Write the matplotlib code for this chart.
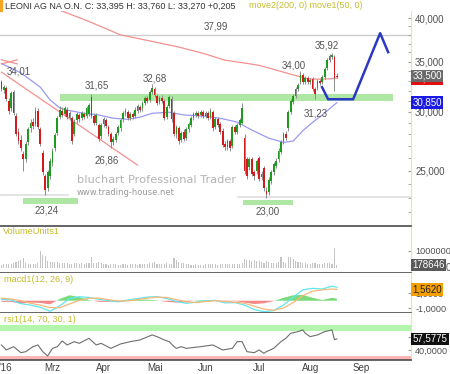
import matplotlib
matplotlib.use("Agg")
import matplotlib.pyplot as plt
import numpy as np
from matplotlib.ticker import FixedLocator, NullFormatter

plt.rcParams['font.family'] = ['Liberation Sans', 'DejaVu Sans']

# daily candles, Feb 1 2016 .. Aug 18 2016 (trading-day index on x)
opens = [32.9, 32.1, 32.3, 31.0, 30.3, 31.9, 29.6, 28.2, 27.5, 26.3,
         25.9, 27.3, 28.5, 29.1, 28.9, 30.1, 28.4, 26.4, 24.6, 23.7,
         24.6, 25.6, 26.8, 28.1, 29.5, 30.1, 29.8, 30.2, 29.4, 29.4,
         28.0, 29.2, 29.7, 29.4, 29.8, 29.6, 29.8, 31.4, 29.6, 29.0,
         28.8, 27.8, 28.9, 29.2, 28.6, 28.0, 27.3, 27.5, 28.1, 28.5,
         29.3, 29.9, 30.0, 29.4, 29.8, 29.6, 30.1, 30.4, 30.3, 30.8,
         31.3, 31.1, 31.9, 32.2, 31.5, 30.9, 31.3, 31.0, 29.5, 30.5,
         31.2, 29.9, 28.0, 28.5, 27.5, 28.2, 27.7, 28.4, 28.8, 29.4,
         29.7, 29.9, 29.7, 30.0, 29.6, 29.9, 29.5, 30.0, 28.6, 29.3,
         28.9, 28.3, 27.2, 26.9, 27.4, 27.0, 28.6, 28.2, 28.8, 29.0,
         27.7, 25.9, 25.3, 25.9, 24.9, 25.0, 26.0, 24.5, 25.2, 23.5,
         23.4, 24.2, 24.9, 25.4, 25.9, 26.5, 27.4, 28.0, 28.5, 30.0,
         30.9, 31.5, 32.2, 32.9, 33.6, 32.9, 33.3, 32.9, 33.2, 32.2,
         32.3, 33.0, 32.9, 33.4, 34.3, 35.2, 35.5, 35.5, 33.5]
highs = [33.1, 32.6, 32.5, 31.3, 32.0, 32.1, 29.9, 28.5, 27.9, 26.6,
         27.4, 28.6, 29.3, 29.4, 30.4, 30.3, 28.6, 26.7, 24.8, 25.1,
         26.0, 26.8, 28.1, 29.6, 30.5, 30.4, 30.5, 30.4, 30.1, 29.6,
         29.3, 30.0, 29.9, 30.1, 30.0, 30.5, 30.8, 31.65, 29.9, 29.9,
         29.0, 29.0, 29.5, 29.4, 28.8, 28.2, 27.8, 28.2, 28.8, 29.4,
         30.1, 30.3, 30.2, 30.0, 30.0, 30.4, 30.7, 30.6, 31.0, 31.5,
         31.5, 32.1, 32.68, 32.4, 31.7, 31.5, 31.6, 31.2, 30.6, 31.6,
         31.5, 30.1, 28.8, 28.7, 28.3, 28.4, 28.6, 29.1, 29.6, 30.0,
         30.1, 30.1, 30.2, 30.2, 30.1, 30.1, 30.3, 30.2, 29.5, 29.5,
         29.1, 28.5, 27.4, 27.6, 27.6, 28.8, 28.8, 29.0, 29.4, 30.8,
         28.0, 26.1, 26.1, 26.1, 25.1, 25.9, 26.2, 25.0, 25.4, 23.8,
         24.5, 25.1, 25.7, 26.0, 26.8, 27.5, 28.2, 28.3, 30.2, 31.2,
         31.7, 32.4, 32.8, 34.0, 33.8, 33.5, 33.5, 33.3, 33.4, 32.4,
         33.2, 33.2, 33.6, 34.4, 35.4, 35.8, 35.92, 35.7, 33.76]
lows = [32.0, 31.8, 31.0, 29.8, 30.1, 29.7, 27.8, 27.2, 26.6, 25.0,
        25.7, 27.1, 28.2, 28.4, 28.7, 28.4, 27.0, 24.7, 23.24, 23.5,
        24.4, 25.4, 26.6, 27.9, 29.3, 29.5, 29.6, 29.3, 29.2, 27.2,
        27.8, 29.0, 29.1, 29.2, 29.3, 29.4, 29.6, 29.4, 28.8, 28.8,
        27.4, 27.6, 28.6, 28.5, 27.8, 26.86, 27.1, 27.3, 27.9, 28.3,
        29.1, 29.6, 29.2, 29.2, 29.3, 29.4, 29.9, 30.0, 30.1, 30.6,
        30.8, 30.9, 31.7, 31.4, 30.6, 30.7, 30.8, 29.2, 29.3, 30.3,
        29.1, 27.8, 27.7, 27.2, 27.3, 27.4, 27.5, 28.2, 28.6, 29.2,
        29.5, 29.4, 29.5, 29.4, 29.4, 29.2, 29.3, 28.3, 28.4, 28.6,
        28.0, 26.9, 26.7, 26.7, 26.6, 26.8, 28.0, 28.0, 28.6, 28.9,
        24.8, 24.4, 25.1, 24.6, 24.3, 24.8, 24.2, 24.3, 23.5, 23.0,
        23.2, 24.0, 24.7, 25.2, 25.7, 26.3, 27.2, 27.5, 28.3, 29.8,
        30.7, 31.3, 32.0, 32.7, 32.7, 32.7, 32.7, 32.7, 32.0, 31.23,
        32.1, 32.6, 32.7, 33.2, 34.1, 35.0, 35.3, 32.0, 33.27]
closes = [32.2, 32.4, 31.2, 30.1, 31.8, 29.9, 28.0, 27.4, 26.8, 25.9,
          27.2, 28.4, 29.0, 28.7, 30.1, 28.6, 27.2, 24.9, 23.6, 24.9,
          25.8, 26.6, 27.9, 29.4, 30.2, 29.7, 30.3, 29.5, 29.9, 27.4,
          29.1, 29.8, 29.3, 29.9, 29.5, 30.3, 30.6, 29.6, 29.0, 29.7,
          27.6, 28.8, 29.3, 28.7, 28.0, 27.3, 27.6, 28.0, 28.6, 29.2,
          29.9, 30.1, 29.4, 29.8, 29.5, 30.2, 30.5, 30.2, 30.8, 31.3,
          31.0, 31.9, 32.3, 31.6, 30.8, 31.3, 31.0, 29.4, 30.4, 31.4,
          29.3, 28.0, 28.6, 27.4, 28.1, 27.6, 28.4, 28.9, 29.4, 29.8,
          29.9, 29.6, 30.0, 29.6, 29.9, 29.4, 30.1, 28.5, 29.3, 28.8,
          28.2, 27.1, 26.9, 27.4, 26.8, 28.6, 28.2, 28.8, 29.2, 30.3,
          25.0, 24.6, 25.9, 24.8, 24.6, 25.8, 24.4, 24.8, 23.7, 23.3,
          24.3, 24.9, 25.5, 25.8, 26.6, 27.3, 28.0, 27.7, 30.0, 31.0,
          31.5, 32.2, 32.6, 33.6, 32.9, 33.3, 32.9, 33.1, 32.2, 31.7,
          33.0, 32.8, 33.4, 34.2, 35.2, 35.6, 35.7, 33.3, 33.395]
volumes_k = [200, 220, 250, 230, 260, 300, 350, 400, 450, 590,
             280, 230, 250, 220, 260, 300, 1020, 750, 700, 400,
             380, 350, 380, 330, 300, 290, 280, 270, 250, 260,
             300, 280, 260, 270, 250, 290, 300, 650, 300, 290,
             330, 280, 240, 220, 200, 260, 230, 210, 190, 200,
             230, 210, 200, 220, 240, 210, 190, 250, 230, 220,
             260, 280, 300, 330, 250, 260, 220, 240, 280, 230,
             250, 600, 490, 380, 300, 280, 240, 220, 200, 190,
             210, 180, 200, 190, 220, 230, 210, 260, 220, 200,
             230, 250, 240, 220, 260, 250, 220, 230, 240, 300,
             550, 480, 470, 430, 450, 400, 420, 380, 300, 400,
             330, 300, 280, 300, 350, 650, 380, 300, 650, 640,
             500, 420, 380, 350, 300, 280, 260, 250, 270, 300,
             240, 220, 260, 300, 320, 290, 250, 1180, 178.646]

# moving averages (index, value)
ma200_idx = [0, 12, 24, 36, 49, 61, 73, 83, 92, 100, 106, 113, 120, 126, 132, 138]
ma200_val = [43.6, 42.2, 41.0, 39.6, 38.0, 37.3, 36.6, 35.9, 35.15, 34.85, 34.6, 34.1, 33.6, 33.2, 33.15, 33.25]
ma50_idx = [0, 8, 16, 20, 24, 27, 34, 40, 46, 52, 57, 62, 69, 75, 83, 90, 97, 103, 110, 116, 120, 124, 129, 132, 138]
ma50_val = [34.8, 33.8, 32.35, 31.1, 30.35, 30.15, 29.85, 29.7, 29.4, 29.3, 29.5, 29.85, 29.95, 29.7, 29.6, 29.4, 29.05, 28.35, 27.65, 27.3, 27.4, 28.3, 29.2, 29.7, 30.85]

# drawn objects
trend_idx = [0, 56]
trend_val = [33.88, 25.45]
forecast_idx = [131.9, 134.4, 144.7, 155.8, 159.1]
forecast_val = [32.35, 31.17, 31.17, 38.2, 36.03]
price_marks = [(7.2, 34.0, "34,01"), (39.3, 32.55, "31,65"), (63.2, 33.26, "32,68"),
               (43.4, 25.85, "26,86"), (18.7, 22.13, "23,24"), (109.7, 22.06, "23,00"),
               (120.4, 34.62, "34,00"), (134.0, 36.81, "35,92"), (129.4, 29.86, "31,23"),
               (88.3, 39.03, "37,99")]

# MACD (12, 26, 9)
macd_idx = [0, 4, 8, 12, 16, 20, 24, 28, 32, 36, 40, 44, 48, 52, 56, 60, 64, 68,
            72, 76, 80, 84, 88, 92, 96, 100, 104, 108, 112, 116, 120, 124, 128, 132, 136, 138]
macd_line = [0.2, 0.1, -0.4, -0.6, -0.9, -1.45, -0.7, 0.3, 0.55, 0.45, 0.2, 0.0, -0.15, 0.1,
             0.3, 0.5, 0.55, 0.3, -0.1, -0.35, -0.2, 0.0, 0.05, -0.3, -0.25, -0.6, -1.2, -1.5,
             -1.35, -0.6, 0.5, 1.5, 1.7, 1.6, 2.0, 1.85]
macd_signal = [0.35, 0.25, 0.0, -0.35, -0.6, -0.95, -0.95, -0.45, 0.05, 0.35, 0.35, 0.15, -0.05,
               -0.02, 0.15, 0.35, 0.5, 0.45, 0.15, -0.15, -0.25, -0.1, 0.0, -0.12, -0.2, -0.35,
               -0.75, -1.15, -1.3, -1.0, -0.25, 0.7, 1.3, 1.5, 1.6, 1.562]

# RSI (14)
rsi_idx = [0, 2, 5, 8, 10, 13, 15, 17, 19, 21, 23, 25, 27, 30, 32, 36, 39, 41, 45, 49, 53,
           57, 62, 64, 67, 69, 71, 72, 74, 76, 82, 87, 91, 95, 97, 99, 101, 104, 106, 108,
           109, 112, 115, 117, 119, 122, 124, 125, 127, 130, 133, 136, 137, 138]
rsi_val = [48.0, 40.0, 45.3, 35.7, 37.3, 45.3, 48.0, 37.3, 30.4, 42.6, 45.3, 54.4, 48.0, 53.3,
           50.6, 58.6, 48.0, 50.6, 42.6, 49.6, 53.3, 56.0, 64.0, 61.3, 56.0, 53.3, 45.3, 42.6,
           45.3, 42.6, 45.3, 48.0, 40.0, 42.6, 53.3, 53.3, 37.3, 35.7, 40.0, 34.7, 37.3, 42.6,
           53.3, 58.6, 66.7, 69.3, 72.0, 66.7, 61.3, 64.0, 69.3, 72.0, 56.5, 57.58]

month_idx = [21, 42, 63, 84, 106, 127, 148]
month_lbl = ["Mrz", "Apr", "Mai", "Jun", "Jul", "Aug", "Sep"]

W, H = 450, 374
fig = plt.figure(figsize=(W / 100, H / 100), dpi=100)


def rect(top, bottom):
    return [0, 1 - bottom / H, 411 / W, (bottom - top) / H]


ax = fig.add_axes(rect(11, 226))
axv = fig.add_axes(rect(227, 273), sharex=ax)
axm = fig.add_axes(rect(273, 313), sharex=ax)
axr = fig.add_axes(rect(313, 360), sharex=ax)

for a in (ax, axv, axm, axr):
    a.spines['top'].set_visible(False)
    a.spines['left'].set_visible(False)
    a.spines['right'].set_color('#efe2a6')
    a.spines['bottom'].set_color('#4a4a4a')
    a.spines['bottom'].set_linewidth(1.2)
    a.yaxis.tick_right()
    a.tick_params(axis='y', which='both', labelsize=7, labelcolor='#505050', color='#9a9a9a',
                  direction='in', length=2, pad=3)
    a.tick_params(axis='x', which='both', length=0, labelbottom=False)

ax.set_xlim(-0.6, 168.5)

# ---- main price panel
ax.set_yscale('log')
ax.set_ylim(21.1, 40.9)
x = np.arange(len(closes))
o = np.array(opens)
c = np.array(closes)
up = c >= o

ax.fill_between([24, 161], 31.0, 31.65, color='#aee6a4', lw=0, zorder=1)
ax.fill_between([9, 31.5], 22.55, 22.97, color='#aee6a4', lw=0, zorder=1)
ax.fill_between([99.5, 120], 22.5, 22.85, color='#aee6a4', lw=0, zorder=1)
ax.plot([-1, 169], [37.99, 37.99], color='#cdcdcd', lw=1, zorder=1)
ax.plot([0, 27.5], [23.24, 23.24], color='#dedede', lw=1.2, zorder=1)
ax.plot([97.3, 169], [23.1, 23.1], color='#dedede', lw=1.2, zorder=1)

ax.plot(ma200_idx, ma200_val, color='#f39090', lw=0.9, zorder=2)
ax.plot(ma50_idx, ma50_val, color='#9a9af2', lw=0.9, zorder=2)
ax.plot(trend_idx, trend_val, color='#f39090', lw=0.9, zorder=2)
ax.plot([0, 6.5], [35.2, 34.75], color='#f39090', lw=0.9, zorder=2)
ax.plot([0, 6.5], [34.75, 35.2], color='#f39090', lw=0.9, zorder=2)

ax.vlines(x, lows, highs, color='#8c8c8c', lw=0.7, zorder=3)
ax.bar(x[up], (c - o)[up], bottom=o[up], width=0.72, color='#1e9a1e', lw=0, zorder=4)
ax.bar(x[~up], (o - c)[~up], bottom=c[~up], width=0.72, color='#d41a1a', lw=0, zorder=4)

ax.plot(forecast_idx, forecast_val, color='#2b38c4', lw=1.8, zorder=5)

for xi, yi, s in price_marks:
    ax.text(xi, yi, s, fontsize=7, color='#555555', ha='center', va='center', zorder=6)

ax.yaxis.set_major_locator(FixedLocator([25, 30, 35, 40]))
ax.set_yticklabels(['25,000', '30,000', '35,000', '40,000'])
ax.yaxis.set_minor_locator(FixedLocator(np.arange(22, 41, 1.0)))
ax.yaxis.set_minor_formatter(NullFormatter())


def tag(a, val, s, bg, fg):
    a.text(1.004, val, s, transform=a.get_yaxis_transform(), fontsize=7, color=fg,
           ha='left', va='center', clip_on=False, zorder=10,
           bbox=dict(boxstyle='square,pad=0.12', fc=bg, ec='none'))


tag(ax, 33.2, "33,254", '#e01010', '#ffffff')
tag(ax, 33.5, "33,500", '#6a6a6a', '#ffffff')
tag(ax, 30.85, "30,850", '#1a1ae6', '#ffffff')

# ---- volume panel
vol = np.array(volumes_k)
axv.bar(x, vol, width=0.45, color='#c4c4c4', lw=0)
axv.set_ylim(-290, 2400)
axv.set_yticks([1000])
axv.set_yticklabels(['1000000'], fontsize=6.6)
tag(axv, volumes_k[-1], "178646", '#5a5a5a', '#ffffff')
axv.text(1.085, 0, "0", transform=axv.get_yaxis_transform(), fontsize=7, color='#505050',
         ha='left', va='center', clip_on=False)

# ---- MACD panel
mi = np.array(macd_idx, dtype=float)
ml = np.array(macd_line)
ms = np.array(macd_signal)
hist = ml - ms
axm.fill_between(mi, 0, hist, where=hist >= 0, interpolate=True, color='#5ad25a', alpha=0.8, lw=0)
axm.fill_between(mi, 0, hist, where=hist < 0, interpolate=True, color='#f26a6a', alpha=0.8, lw=0)
axm.plot(mi, ml, color='#5fe6f0', lw=0.9)
axm.plot(mi, ms, color='#f5b878', lw=0.9)
axm.set_ylim(-1.68, 3.8)
axm.set_yticks([-1, 1])
axm.set_yticklabels(['-1,0000', '1,0000'], fontsize=6.6)
tag(axm, 1.562, "1,5620", '#f5a000', '#222222')

# ---- RSI panel
axr.fill_between([-1, 169], 70, 80, color='#b4f5ac', lw=0)
axr.fill_between([-1, 169], 24, 30, color='#f9b4b4', lw=0)
axr.plot(rsi_idx, rsi_val, color='#6e6e6e', lw=0.8)
axr.set_ylim(24, 99)
axr.set_yticks([40, 60])
axr.set_yticklabels(['40,0000', '60,0000'], fontsize=6.6)
tag(axr, 57.5775, "57,5775", '#111111', '#ffffff')

axr.tick_params(axis='x', labelbottom=True, labelsize=7, labelcolor='#404040', pad=2)
axr.set_xticks(month_idx)
axr.set_xticklabels(month_lbl)
fig.text(0 / W, 1 - 368 / H, "'16", fontsize=7, color='#404040', ha='left', va='center')

# ---- panel captions, title, watermark
gold = '#c6bd2e'
fig.text(3 / W, 1 - 232 / H, "VolumeUnits1", fontsize=6.6, color=gold, va='center')
fig.text(4 / W, 1 - 279 / H, "macd1(12, 26, 9)", fontsize=6.6, color=gold, va='center')
fig.text(4 / W, 1 - 320 / H, "rsi1(14, 70, 30, 1)", fontsize=6.6, color=gold, va='center')
fig.text(5 / W, 1 - 6 / H, "LEONI AG NA O.N. C: 33,395 H: 33,760 L: 33,270 +0,205",
         fontsize=6.5, color='#333333', va='center')
fig.text(249 / W, 1 - 6 / H, "move2(200, 0) move1(50, 0)", fontsize=6.5, color=gold, va='center')
fig.patches.append(plt.Rectangle((0, 1 - 11 / H), 2 / W, 11 / H, transform=fig.transFigure,
                                 color='#f5a623', figure=fig))

fig.text(77 / W, 1 - 180 / H, "bluchart Professional Trader", fontsize=8.2, color='#b4b4b4',
         family='DejaVu Sans', va='center')
fig.text(77 / W, 1 - 192 / H, "www.trading-house.net", fontsize=6.0, color='#9a9a9a',
         family='DejaVu Sans', va='center')

fig.savefig("out.png", dpi=100, facecolor='white')
